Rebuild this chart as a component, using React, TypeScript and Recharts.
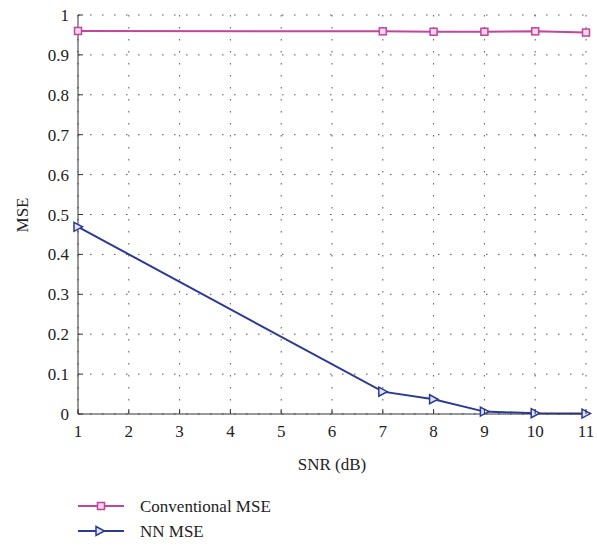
import React from 'react';
import { LineChart, Line, XAxis, YAxis, CartesianGrid } from 'recharts';

const snr = [1, 7, 8, 9, 10, 11];
const conventionalMse = [0.96, 0.959, 0.958, 0.958, 0.959, 0.956];
const nnMse = [0.469, 0.056, 0.037, 0.006, 0.002, 0.001];
const xTicks = [1, 2, 3, 4, 5, 6, 7, 8, 9, 10, 11];
const yTicks = [0, 0.1, 0.2, 0.3, 0.4, 0.5, 0.6, 0.7, 0.8, 0.9, 1];

const data = snr.map((s, i) => ({ snr: s, conv: conventionalMse[i], nn: nnMse[i] }));

const PINK = '#c2459b';
const BLUE = '#2b3a98';
const AXIS = '#333';
const FONT = '"Liberation Serif", "Times New Roman", serif';

const fmtY = (v: number) => (v === 0 || v === 1 ? String(v) : v.toFixed(1));

const BottomTick = ({ x, y, payload }: any) => (
  <g>
    <line x1={x} y1={y} x2={x} y2={y - 5} stroke={AXIS} />
    <text x={x} y={y + 23} textAnchor="middle" fontSize={17} fontFamily={FONT} fill="#222">
      {payload.value}
    </text>
  </g>
);

const TopTick = ({ x, y }: any) => <line x1={x} y1={y} x2={x} y2={y + 5} stroke={AXIS} />;

const LeftTick = ({ x, y, payload }: any) => (
  <g>
    <line x1={x} y1={y} x2={x + 5} y2={y} stroke={AXIS} />
    <text x={x - 9} y={y + 6} textAnchor="end" fontSize={17} fontFamily={FONT} fill="#222">
      {fmtY(payload.value)}
    </text>
  </g>
);

const RightTick = ({ x, y }: any) => <line x1={x} y1={y} x2={x - 5} y2={y} stroke={AXIS} />;

const SquareDot = ({ cx, cy, index }: any) => (
  <rect key={`sq-${index}`} x={cx - 3.5} y={cy - 3.5} width={7} height={7} fill="#f3d6ea" stroke={PINK} strokeWidth={1.5} />
);

const TriDot = ({ cx, cy, index }: any) => (
  <path key={`tr-${index}`} d={`M${cx - 4},${cy - 4.5} L${cx + 4.5},${cy} L${cx - 4},${cy + 4.5} Z`} fill="#dfe3f4" stroke={BLUE} strokeWidth={1.5} />
);

export default function App() {
  return (
    <div style={{ position: 'absolute', left: 0, top: 0, width: 597, height: 547, background: '#fff', fontFamily: FONT }}>
      <LineChart width={597} height={547} data={data} margin={{ top: 15, right: 11, left: 0, bottom: 73 }}>
        <CartesianGrid stroke="#555" strokeDasharray="1.5 10.5" />
        <XAxis
          dataKey="snr"
          type="number"
          domain={[1, 11]}
          ticks={xTicks}
          height={60}
          tickSize={0}
          tickMargin={0}
          tick={<BottomTick />}
          stroke={AXIS}
          interval={0}
        />
        <XAxis
          xAxisId="top"
          orientation="top"
          dataKey="snr"
          type="number"
          domain={[1, 11]}
          ticks={xTicks}
          height={0}
          tickSize={0}
          tickMargin={0}
          tick={<TopTick />}
          stroke={AXIS}
          interval={0}
        />
        <YAxis
          type="number"
          domain={[0, 1]}
          ticks={yTicks}
          width={78}
          tickSize={0}
          tickMargin={0}
          tick={<LeftTick />}
          stroke={AXIS}
          interval={0}
        />
        <YAxis
          yAxisId="right"
          orientation="right"
          type="number"
          domain={[0, 1]}
          ticks={yTicks}
          width={0}
          tickSize={0}
          tickMargin={0}
          tick={<RightTick />}
          stroke={AXIS}
          interval={0}
        />
        <Line dataKey="conv" stroke={PINK} strokeWidth={2} dot={SquareDot} isAnimationActive={false} />
        <Line dataKey="nn" stroke={BLUE} strokeWidth={2} dot={TriDot} isAnimationActive={false} />
      </LineChart>
      <div style={{ position: 'absolute', left: 0, top: 195, width: 40, height: 40 }}>
        <svg width={40} height={40}>
          <text x={0} y={0} transform="translate(28,20) rotate(-90)" textAnchor="middle" fontSize={17} fontFamily={FONT} fill="#222">
            MSE
          </text>
        </svg>
      </div>
      <div style={{ position: 'absolute', left: 282, top: 455, width: 100, textAlign: 'center', fontSize: 17, color: '#222' }}>
        SNR (dB)
      </div>
      <div style={{ position: 'absolute', left: 78, top: 494 }}>
        <svg width={300} height={50}>
          <line x1={0} y1={12} x2={46} y2={12} stroke={PINK} strokeWidth={2} />
          <rect x={19.5} y={8.5} width={7} height={7} fill="#f3d6ea" stroke={PINK} strokeWidth={1.5} />
          <text x={62} y={18} fontSize={17} fontFamily={FONT} fill="#222">Conventional MSE</text>
          <line x1={0} y1={37} x2={46} y2={37} stroke={BLUE} strokeWidth={2} />
          <path d="M18,32.5 L26.5,37 L18,41.5 Z" fill="#dfe3f4" stroke={BLUE} strokeWidth={1.5} />
          <text x={62} y={43} fontSize={17} fontFamily={FONT} fill="#222">NN MSE</text>
        </svg>
      </div>
    </div>
  );
}
